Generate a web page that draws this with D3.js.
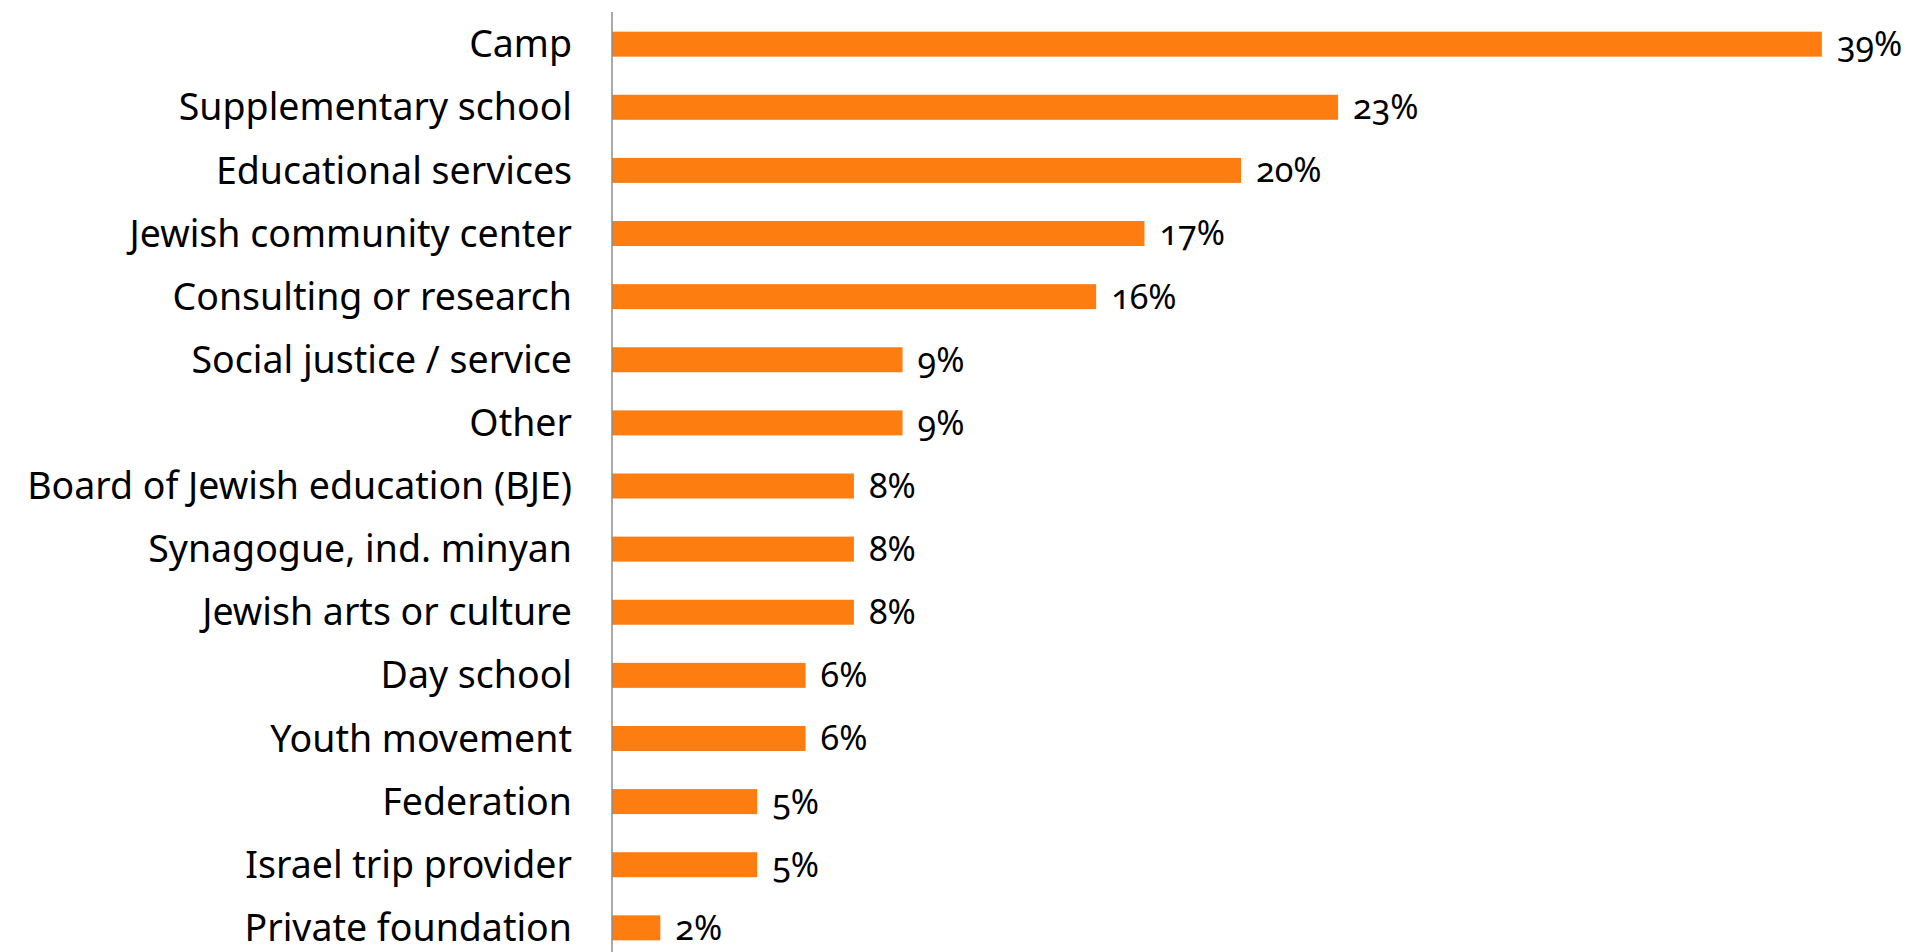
<!DOCTYPE html>
<html>
<head>
<meta charset="utf-8">
<script src="https://cdn.jsdelivr.net/npm/d3@7"></script>
<style>
  body { margin: 0; background: #fff; }
  svg text { font-family: "Noto Sans", "Open Sans", sans-serif; fill: #000; }
  .val { font-variant-numeric: oldstyle-nums; }
</style>
</head>
<body>
<svg id="chart" width="1908" height="952"></svg>
<script>
// categories top to bottom
var categories = [
    "Camp", "Supplementary school", "Educational services",
    "Jewish community center", "Consulting or research",
    "Social justice / service", "Other", "Board of Jewish education (BJE)",
    "Synagogue, ind. minyan", "Jewish arts or culture", "Day school",
    "Youth movement", "Federation", "Israel trip provider", "Private foundation"
]
// share of respondents, % (bar lengths)
var shares = [39.06, 23.44, 20.31, 17.19, 15.63, 9.38, 9.38, 7.81, 7.81, 7.81, 6.25, 6.25, 4.69, 4.69, 1.56]

var width = 1908, height = 952
var axisX = 612

var svg = d3.select("#chart")

var x = d3.scaleLinear().domain([0, 40]).range([axisX, axisX + 1239])
var y = d3.scaleBand().domain(categories).range([12.6, 959.4]).paddingInner(0.604).paddingOuter(0.302)

var rows = categories.map((c, i) => ({name: c, value: shares[i]}))

svg.selectAll(".bar")
    .data(rows).enter()
    .append("rect")
    .attr("class", "bar")
    .attr("x", x(0))
    .attr("y", d => y(d.name))
    .attr("width", d => x(d.value) - x(0))
    .attr("height", y.bandwidth())
    .attr("fill", "#fe7d11")

svg.selectAll(".val")
    .data(rows).enter()
    .append("text")
    .attr("class", "val")
    .attr("x", d => x(d.value) + 15)
    .attr("y", d => y(d.name) + y.bandwidth() / 2)
    .attr("dy", "0.35em")
    .attr("font-size", 34)
    .text(d => Math.round(d.value) + "%")

var yAxis = svg.append("g")
    .attr("transform", `translate(${axisX},0)`)
    .call(d3.axisLeft(y).tickSize(0).tickSizeOuter(0).tickPadding(40))

yAxis.select(".domain")
    .attr("stroke", "#8c8c8c")
    .attr("stroke-width", 1.5)
    .attr("d", `M0,12V${height}`)

yAxis.selectAll(".tick text")
    .attr("font-size", 37.5)
    .attr("font-family", null)
    .attr("dy", "0.35em")
</script>
</body>
</html>
